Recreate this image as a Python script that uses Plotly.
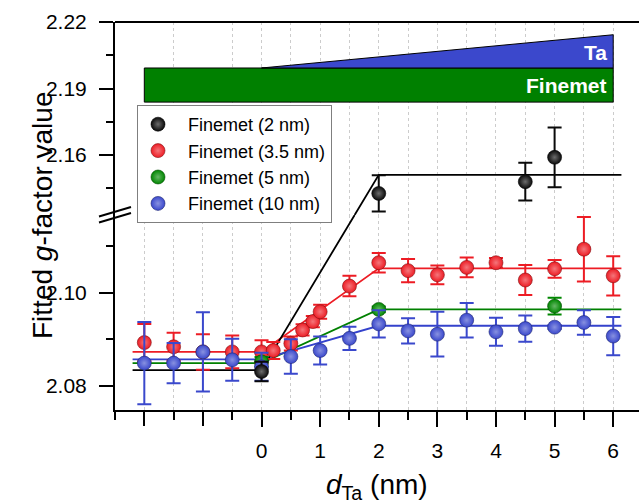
import plotly.graph_objects as go

# ---------------- data ----------------
black_x = [0, 2, 4.5, 5]
black_y = [2.0831, 2.1427, 2.1480, 2.1590]
black_err = [0.0021, 0.0082, 0.0085, 0.0135]

red_x = [-2, -1.5, -1, -0.5, 0, 0.2, 0.5, 0.7, 0.875, 1.0, 1.5, 2, 2.5, 3, 3.5, 4, 4.5, 5, 5.5, 6]
red_y = [2.0893, 2.0884, 2.0873, 2.0873, 2.0873, 2.0876, 2.0891, 2.0920, 2.0938, 2.0959, 2.1014,
         2.1064, 2.1047, 2.1038, 2.1054, 2.1064, 2.1027, 2.1051, 2.1093, 2.1036]
red_err = [0.0040, 0.0030, 0.0038, 0.0035, 0.0025, 0.0018, 0.0015, 0.0012, 0.0012, 0.0015, 0.0022,
           0.0021, 0.0025, 0.0020, 0.0021, 0.0010, 0.0032, 0.0019, 0.0069, 0.0042]

green_x = [0, 2, 5]
green_y = [2.0852, 2.0964, 2.0971]
green_err = [0.0010, 0.0006, 0.0018]

blue_x = [-2, -1.5, -1, -0.5, 0, 0.5, 1, 1.5, 2, 2.5, 3, 3.5, 4, 4.5, 5, 5.5, 6]
blue_y = [2.0849, 2.0849, 2.0873, 2.0856, 2.0841, 2.0863, 2.0876, 2.0902, 2.0933, 2.0918, 2.0911,
          2.0941, 2.0916, 2.0923, 2.0926, 2.0936, 2.0907]
blue_err = [0.0088, 0.0043, 0.0085, 0.0045, 0.0030, 0.0037, 0.0030, 0.0025, 0.0029, 0.0027, 0.0048,
            0.0037, 0.0030, 0.0028, 0.0004, 0.0026, 0.0041]

# piecewise-linear fits: [x_start, kink1, kink2, x_end] and [low, high]
fit_x = [-2.2, 0, 2, 6.14]
black_fit = [2.0834, 2.1511]
red_fit = [2.0873, 2.1052]
green_fit = [2.0849, 2.0964]
blue_fit = [2.0857, 2.0929]

x_ticks = [0, 1, 2, 3, 4, 5, 6]
x_ticks_unlabeled = [-2, -1]
x_minor = [-2.5, -1.5, -0.5, 0.5, 1.5, 2.5, 3.5, 4.5, 5.5]
low_ticks = [2.08, 2.10]
low_minor = [2.09, 2.11]
up_ticks = [2.16, 2.19, 2.22]
up_minor = [2.145, 2.175, 2.205]

names = ["Finemet (2 nm)", "Finemet (3.5 nm)", "Finemet (5 nm)", "Finemet (10 nm)"]

# ---------------- layout geometry ----------------
W, H = 639, 504
ML, MR, MT, MB = 115, 0, 22, 94
PW, PH = W - ML - MR, H - MT - MB
B = 195 / 388.0                 # break position (fraction of plot height)
LOW = [2.07486, 2.11662]
UP = [2.13297, 2.22005]
XR = [-2.5, 6.44]
SPLIT = 2.125


def paper_y(v):
    if v < SPLIT:
        return B * (v - LOW[0]) / (LOW[1] - LOW[0])
    return B + (1 - B) * (v - UP[0]) / (UP[1] - UP[0])


fig = go.Figure()


def tint(rgb, f):
    r, g, b = rgb
    return "rgb(%d,%d,%d)" % (r + (255 - r) * f, g + (255 - g) * f, b + (255 - b) * f)


def add_points(name, xs, ys, es, rgb, rank):
    col = "rgb(%d,%d,%d)" % rgb
    dark = "rgb(%d,%d,%d)" % tuple(int(c * 0.55) for c in rgb)
    marker = dict(size=14, color=col, gradient=dict(type="radial", color=tint(rgb, 0.4)),
                  line=dict(width=0.6, color=dark))
    for part, ya in (("low", "y"), ("up", "y2")):
        sel = [i for i, v in enumerate(ys) if (v < SPLIT) == (part == "low")]
        if not sel:
            continue
        fig.add_trace(go.Scatter(
            x=[xs[i] for i in sel], y=[ys[i] for i in sel], yaxis=ya, mode="markers",
            marker=marker, showlegend=False, cliponaxis=False,
            error_y=dict(type="data", array=[es[i] for i in sel], color=col, thickness=2, width=7)))
    # legend entry
    fig.add_trace(go.Scatter(x=[None], y=[None], mode="markers", marker=marker, name="  " + name,
                             legendrank=rank, showlegend=True))


def add_fit(levels, color):
    lo, hi = levels
    ys = [lo, lo, hi, hi]
    if hi < SPLIT:
        fig.add_trace(go.Scatter(x=fit_x, y=ys, mode="lines", line=dict(color=color, width=1.8),
                                 showlegend=False, hoverinfo="skip"))
        return
    # straight in screen space across the axis break
    pa, pb = paper_y(lo), paper_y(hi)
    t = (B - pa) / (pb - pa)
    xc = fit_x[1] + t * (fit_x[2] - fit_x[1])
    fig.add_trace(go.Scatter(x=[fit_x[0], fit_x[1], xc], y=[lo, lo, LOW[1]], mode="lines",
                             line=dict(color=color, width=1.8), showlegend=False, hoverinfo="skip"))
    fig.add_trace(go.Scatter(x=[xc, fit_x[2], fit_x[3]], y=[UP[0], hi, hi], yaxis="y2", mode="lines",
                             line=dict(color=color, width=1.8), showlegend=False, hoverinfo="skip"))


add_fit(red_fit, "rgb(237,28,36)")
add_fit(green_fit, "rgb(0,128,0)")
add_fit(blue_fit, "rgb(52,66,204)")
add_fit(black_fit, "black")

add_points(names[1], red_x, red_y, red_err, (237, 28, 36), 2)
add_points(names[2], green_x, green_y, green_err, (0, 135, 0), 3)
add_points(names[3], blue_x, blue_y, blue_err, (58, 72, 204), 4)
add_points(names[0], black_x, black_y, black_err, (10, 10, 10), 1)

FONT = "Liberation Sans, Arial, sans-serif"
axis_common = dict(showline=True, linewidth=2, linecolor="black", ticks="outside", tickwidth=2,
                   tickcolor="black", zeroline=False, tickfont=dict(size=21, color="black", family=FONT))

fig.update_layout(
    width=W, height=H, margin=dict(l=ML, r=MR, t=MT, b=MB),
    paper_bgcolor="white", plot_bgcolor="white",
    font=dict(family=FONT, color="black"),
    xaxis=dict(range=XR, tickvals=x_ticks, ticklen=15, anchor="y",
               showgrid=True, gridcolor="#cccccc", griddash="dot", gridwidth=1,
               minor=dict(tickvals=x_minor, ticklen=8, tickwidth=2, ticks="outside", tickcolor="black",
                          showgrid=True, gridcolor="#cccccc", griddash="dot", gridwidth=1),
               ticklabelstandoff=6, **axis_common),
    xaxis2=dict(range=XR, overlaying="x", anchor="y", side="bottom", tickvals=x_ticks_unlabeled,
                ticks="outside", ticklen=15, tickwidth=2, tickcolor="black", showticklabels=False,
                showgrid=True, gridcolor="#cccccc", griddash="dot", gridwidth=1,
                showline=False, zeroline=False),
    yaxis=dict(domain=[0, B], range=LOW, tickvals=low_ticks, ticktext=["2.08", "2.10"], ticklen=14,
               anchor="x", showgrid=False, ticklabelstandoff=8,
               minor=dict(tickvals=low_minor, ticklen=7, tickwidth=2, ticks="outside", tickcolor="black"),
               **axis_common),
    yaxis2=dict(domain=[B, 1], range=UP, tickvals=up_ticks, ticktext=["2.16", "2.19", "2.22"], ticklen=14,
                anchor="x", showgrid=False, ticklabelstandoff=8,
                minor=dict(tickvals=up_minor, ticklen=7, tickwidth=2, ticks="outside", tickcolor="black"),
                **axis_common),
    legend=dict(x=(137 - ML) / PW, y=(410 - 105) / PH, xanchor="left", yanchor="top",
                bordercolor="#7f7f7f", borderwidth=1, bgcolor="white",
                font=dict(size=18, color="black", family=FONT), tracegroupgap=0),
    showlegend=True,
)

# invisible trace so that the overlay x-axis (unlabeled ticks left of zero) is drawn
fig.add_trace(go.Scatter(x=[None], y=[None], xaxis="x2", yaxis="y", showlegend=False, hoverinfo="skip"))

# schematic of the stack (Finemet bar + Ta wedge) in data coordinates of the upper panel
fig.add_shape(type="rect", xref="x", yref="y2", x0=-2, x1=6, y0=2.1839, y1=2.1993,
              fillcolor="rgb(0,128,0)", line=dict(color="black", width=1), layer="above")
fig.add_shape(type="path", xref="x", yref="y2", path="M 0,2.1993 L 6,2.2143 L 6,2.1993 Z",
              fillcolor="rgb(59,72,204)", line=dict(color="black", width=1), layer="above")
fig.add_annotation(x=5.93, y=2.1916, xref="x", yref="y2", text="<b>Finemet</b>", showarrow=False,
                   xanchor="right", yanchor="middle", font=dict(size=21, color="white", family=FONT))
fig.add_annotation(x=5.93, y=2.2062, xref="x", yref="y2", text="<b>Ta</b>", showarrow=False,
                   xanchor="right", yanchor="middle", font=dict(size=21, color="white", family=FONT))

# top frame line
fig.add_shape(type="line", xref="paper", yref="paper", x0=0, x1=1, y0=1, y1=1,
              line=dict(color="black", width=2))
# axis-break marks
for dy in (0, 6):
    fig.add_shape(type="line", xref="paper", yref="paper",
                  x0=(99 - ML) / PW, x1=(131 - ML) / PW,
                  y0=(410 - (216.5 + dy)) / PH, y1=(410 - (207 + dy)) / PH,
                  line=dict(color="black", width=2))

# axis titles
fig.add_annotation(x=(42 - ML) / PW, y=0.5, xref="paper", yref="paper", textangle=-90,
                   xanchor="center", yanchor="middle",
                   text="Fitted <i>g</i>-factor value", showarrow=False,
                   font=dict(size=28, color="black", family=FONT))
fig.add_annotation(x=0.5, y=(410 - 486) / PH, xref="paper", yref="paper",
                   text="<i>d</i><sub>Ta</sub> (nm)", showarrow=False, yanchor="middle",
                   xanchor="center", font=dict(size=28, color="black", family=FONT))

fig.write_html("out.html")
